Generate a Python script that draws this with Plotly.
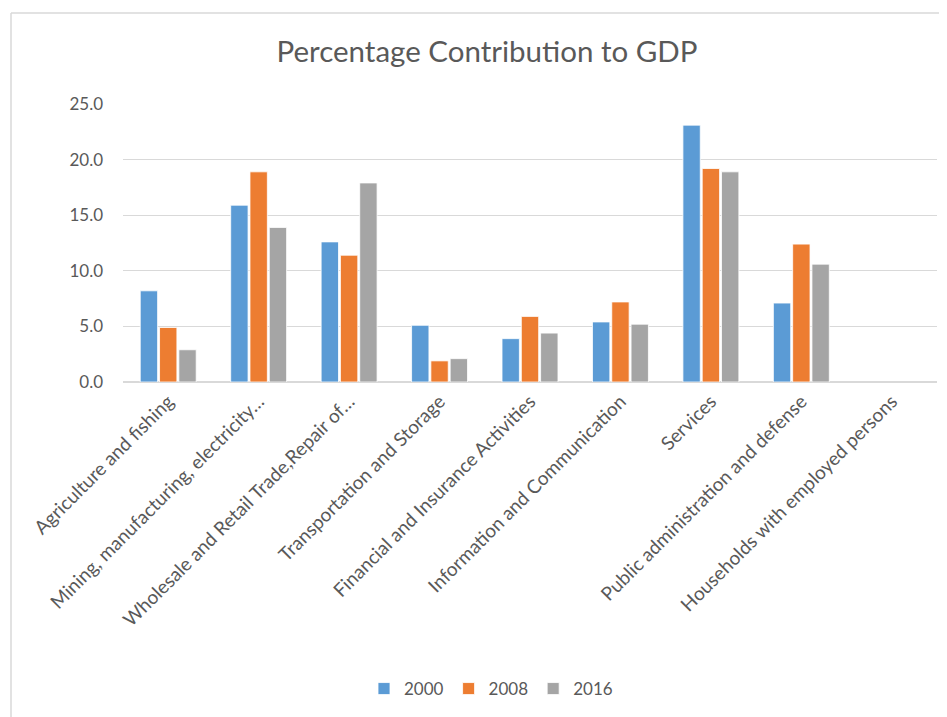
import plotly.graph_objects as go

categories = [
    "Agriculture and fishing",
    "Mining, manufacturing, electricity…",
    "Wholesale and Retail Trade,Repair of…",
    "Transportation and Storage",
    "Financial and Insurance Activities",
    "Information and Communication",
    "Services",
    "Public administration and defense",
    "Households with employed persons",
]
v2000 = [8.2, 15.9, 12.6, 5.1, 3.9, 5.4, 23.1, 7.1, None]
v2008 = [4.9, 18.9, 11.4, 1.9, 5.9, 7.2, 19.2, 12.4, None]
v2016 = [2.9, 13.9, 17.9, 2.1, 4.4, 5.2, 18.9, 10.6, None]
series_names = ["2000", "2008", "2016"]
colors = ["#5b9bd5", "#ed7d31", "#a5a5a5"]

OFF = 8  # page body margin
W, H = 939, 709
L, R, T, B = 115, 10, 96, 335
pw, ph = W - L - R, H - T - B

fig = go.Figure()
for name, vals, col in zip(series_names, [v2000, v2008, v2016], colors):
    fig.add_trace(go.Bar(
        x=categories, y=vals, name=name,
        marker=dict(color=col, line=dict(color="white", width=0.8)),
    ))

def px_x(x):
    return (x - OFF - L) / pw

def px_y(y):
    return (OFF + H - B - y) / ph

fig.update_layout(
    width=W, height=H,
    margin=dict(l=L, r=R, t=T, b=B),
    paper_bgcolor="white", plot_bgcolor="white",
    font=dict(family="Lato, Open Sans, sans-serif", color="#595959", size=16),
    title=dict(text="Percentage Contribution to GDP", x=(487 - OFF) / W, xanchor="center",
               y=1 - (52 - OFF) / H, yanchor="middle", font=dict(size=29.5, color="#595959")),
    barmode="group", bargap=0.36, bargroupgap=0.1,
    showlegend=True,
    legend=dict(orientation="h", x=px_x(491), xanchor="center", y=px_y(689), yanchor="middle",
                font=dict(size=17, color="#595959"), itemwidth=30, traceorder="normal"),
    xaxis=dict(tickangle=-45, showgrid=False, showline=True, linecolor="#d9d9d9", linewidth=1,
               ticks="", tickfont=dict(size=19, color="#595959"), automargin=False),
    yaxis=dict(range=[0, 25], dtick=5, tickformat=".1f", showgrid=True, gridcolor="#d9d9d9",
               gridwidth=1, zeroline=True, zerolinecolor="#d9d9d9", ticks="",
               tickfont=dict(size=17, color="#595959"), ticklabelstandoff=19, automargin=False),
    shapes=[
        dict(type="line", xref="paper", yref="paper", x0=px_x(11), x1=px_x(11), y0=px_y(13), y1=px_y(730),
             line=dict(color="#d9d9d9", width=1.5)),
        dict(type="line", xref="paper", yref="paper", x0=px_x(11), x1=px_x(960), y0=px_y(13), y1=px_y(13),
             line=dict(color="#d9d9d9", width=1.5)),
    ],
)

fig.write_html("out.html")
